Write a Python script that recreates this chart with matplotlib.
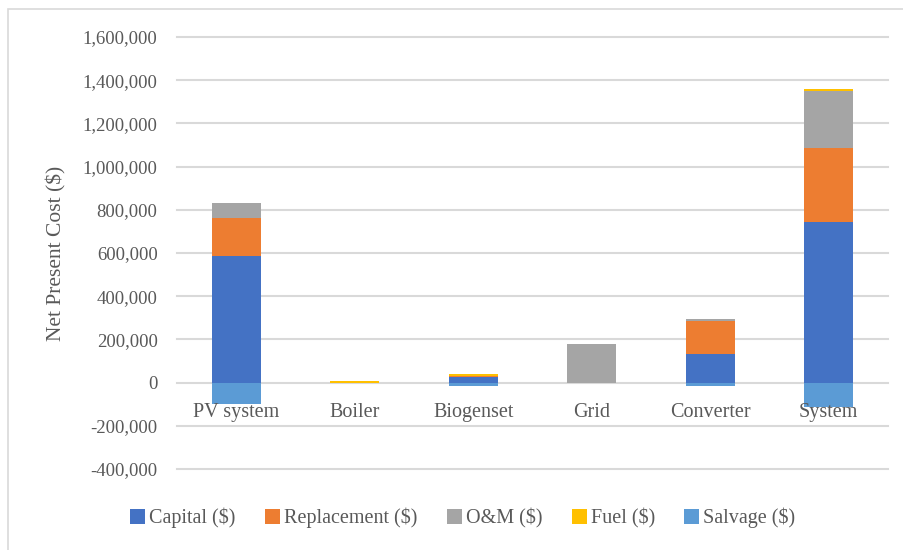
import numpy as np
import matplotlib.pyplot as plt
from matplotlib.patches import Rectangle

# values ($)
components = ['PV system', 'Boiler', 'Biogenset', 'Grid', 'Converter', 'System']
capital = [587000, 0, 26000, 0, 131000, 744000]
replacement = [173000, 0, 3000, 0, 152000, 342000]
om = [72000, 0, 3000, 180000, 12000, 264000]
fuel = [0, 6000, 8000, 0, 0, 7000]
salvage = [-97000, 0, -14000, 0, -18000, -115000]

series = [('Capital ($)', capital, '#4472C4'),
          ('Replacement ($)', replacement, '#ED7D31'),
          ('O&M ($)', om, '#A5A5A5'),
          ('Fuel ($)', fuel, '#FFC000'),
          ('Salvage ($)', salvage, '#5B9BD5')]

plt.rcParams['font.family'] = ['Liberation Serif', 'DejaVu Serif']
txt = '#595959'
grid = '#D9D9D9'

fig = plt.figure(figsize=(9.04, 5.5), dpi=100)
ax = fig.add_axes([177 / 904, 1 - 469 / 550, 711 / 904, 432 / 550])

x = np.arange(len(components))
pos = np.zeros(len(components))
neg = np.zeros(len(components))
for name, vals, col in series:
    v = np.array(vals, dtype=float)
    bottom = np.where(v >= 0, pos, neg)
    ax.bar(x, v, 0.41, bottom=bottom, color=col, label=name, zorder=2,
           linewidth=0)
    pos += np.where(v >= 0, v, 0)
    neg += np.where(v < 0, v, 0)

yticks = np.arange(-400000, 1600001, 200000)
for y in yticks:
    ax.axhline(y, color=grid, lw=1.5, zorder=1, clip_on=False)

ax.set_ylim(-400000, 1600000)
ax.set_xlim(-0.5, len(components) - 0.5)
ax.set_yticks(yticks)
ax.set_yticklabels(['{:,}'.format(int(t)) for t in yticks])
ax.tick_params(axis='y', length=0, pad=14, labelsize=13.5, labelcolor=txt)
ax.set_xticks([])
for s in ax.spines.values():
    s.set_visible(False)

for i, name in enumerate(components):
    ax.annotate(name, (i, 0), xytext=(0, -15), textcoords='offset points',
                ha='center', va='top', fontsize=14.5, color=txt)

ax.set_ylabel('Net Present Cost ($)', fontsize=15.5, color=txt, labelpad=12)

fig.legend(loc='center', bbox_to_anchor=(0.512, 0.058), ncol=5, frameon=False,
           fontsize=14.5, labelcolor=txt, handlelength=0.75, handleheight=0.75,
           handletextpad=0.2, columnspacing=1.45)

fig.patches.append(Rectangle((8 / 904, -0.05), 1.0, 1 - 9 / 550 + 0.05,
                             transform=fig.transFigure, fill=False,
                             edgecolor=grid, lw=1.2))

fig.savefig('out.png', dpi=100)
